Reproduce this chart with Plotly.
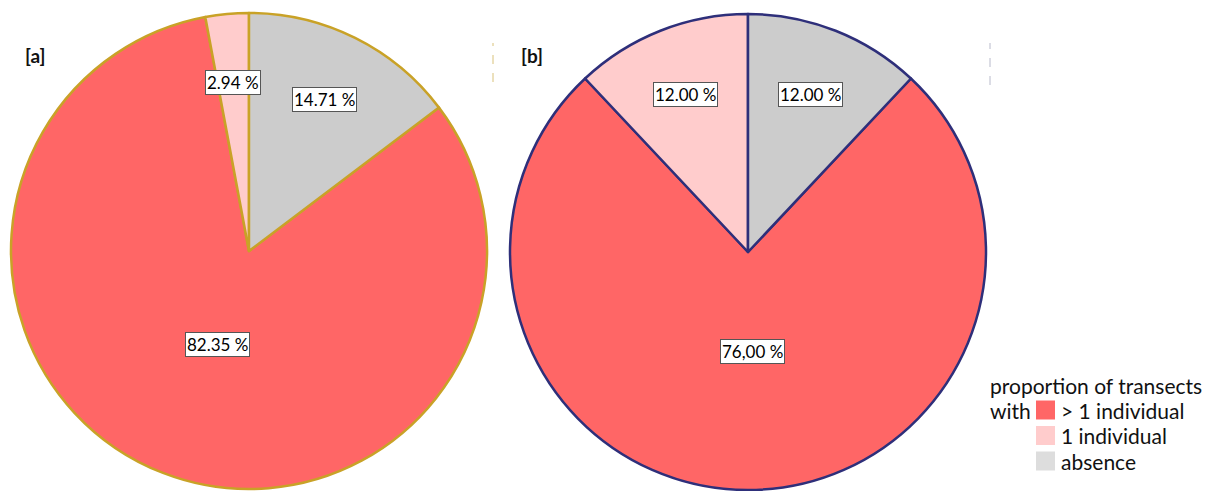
import math
import plotly.graph_objects as go

# ---- data ----
categories = ["> 1 individual", "1 individual", "absence"]
values_a = [82.35, 2.94, 14.71]
values_b = [76.00, 12.00, 12.00]
text_a = ["82.35 %", "2.94 %", "14.71 %"]
text_b = ["76,00 %", "12.00 %", "12.00 %"]
panel_titles = ["[a]", "[b]"]
legend_title = "proportion of transects"
legend_prefix = "with"

colors = ["#FF6666", "#FFCCCC", "#CCCCCC"]
legend_colors = ["#FF6666", "#FFCCCC", "#DDDDDD"]

OFF = 8  # page body margin
W, H = 1218 - OFF, 491 - OFF
FONT = "Lato"

# pie placement in window pixels (left, right, top, bottom)
boxes = [(11, 487, 13, 489), (509, 987, 14, 490)]
line_colors = ["#C9A227", "#2E2F7A"]


def px2paper(x, y):
    return (x - OFF) / W, 1 - (y - OFF) / H


fig = go.Figure()
annotations = []
shapes = []

for i, (vals, texts, box, lc) in enumerate(zip([values_a, values_b], [text_a, text_b], boxes, line_colors)):
    l, r, t, b = box
    x0, y1 = px2paper(l, t)
    x1, y0 = px2paper(r, b)
    total = sum(vals)
    rotation = vals[-1] / total * 360.0  # absence slice sits right of 12 o'clock
    fig.add_trace(go.Pie(
        labels=categories,
        values=vals,
        sort=False,
        direction="clockwise",
        rotation=rotation,
        marker=dict(colors=colors, line=dict(color=lc, width=2.5)),
        textinfo="none",
        hoverinfo="label+percent",
        domain=dict(x=[x0, x1], y=[y0, y1]),
        showlegend=False,
    ))
    cx, cy = (l + r) / 2, (t + b) / 2
    R = min(r - l, b - t) / 2
    ang = rotation
    for v, txt in zip(vals, texts):
        share = v / total
        mid = ang + share * 360 / 2
        ang += share * 360
        frac = 0.42 if share > 0.5 else 0.71
        x = cx + frac * R * math.sin(math.radians(mid))
        y = cy - frac * R * math.cos(math.radians(mid))
        if share > 0.5:
            x += 5
        xp, yp = px2paper(x, y)
        annotations.append(dict(
            x=xp, y=yp, xref="paper", yref="paper", text=txt, showarrow=False,
            xanchor="center", yanchor="middle",
            font=dict(family=FONT, size=17, color="#000000"),
            bgcolor="white", bordercolor="#555555", borderwidth=1, borderpad=1,
        ))

# panel titles
for title, xpix in zip(panel_titles, [23, 519]):
    xp, yp = px2paper(xpix, 55)
    annotations.append(dict(
        x=xp, y=yp, xref="paper", yref="paper", text="<b>" + title + "</b>",
        showarrow=False, xanchor="left", yanchor="middle",
        font=dict(family=FONT, size=19, color="#111111"),
    ))

# legend (drawn manually)
LEG_FONT = dict(family=FONT, size=21, color="#111111")
for txt, ypix in [(legend_title, 385), (legend_prefix, 410)]:
    xp, yp = px2paper(988, ypix)
    annotations.append(dict(
        x=xp, y=yp, xref="paper", yref="paper", text=txt, showarrow=False,
        xanchor="left", yanchor="middle", font=LEG_FONT,
    ))
for k, (cat, col) in enumerate(zip(categories, legend_colors)):
    yc = 410 + k * 25.5
    sx0, sy1 = px2paper(1036, yc - 9.5)
    sx1, sy0 = px2paper(1055, yc + 9.5)
    shapes.append(dict(type="rect", xref="paper", yref="paper", x0=sx0, x1=sx1,
                       y0=sy0, y1=sy1, fillcolor=col, line=dict(width=0)))
    xp, yp = px2paper(1059, yc)
    annotations.append(dict(
        x=xp, y=yp, xref="paper", yref="paper", text=cat, showarrow=False,
        xanchor="left", yanchor="middle", font=LEG_FONT,
    ))

# faint frame remnants
for xpix, ytop, ybot, col in [(493, 43, 82, "#D9C27A"), (990, 43, 85, "#B8BACB")]:
    xa, ya1 = px2paper(xpix, ytop)
    _, ya0 = px2paper(xpix, ybot)
    shapes.append(dict(type="line", xref="paper", yref="paper", x0=xa, x1=xa,
                       y0=ya0, y1=ya1, line=dict(color=col, width=1, dash="dash")))

fig.update_layout(
    width=W, height=H,
    margin=dict(l=0, r=0, t=0, b=0),
    paper_bgcolor="white",
    annotations=annotations,
    shapes=shapes,
    showlegend=False,
    font=dict(family=FONT),
)

fig.write_html("out.html")
